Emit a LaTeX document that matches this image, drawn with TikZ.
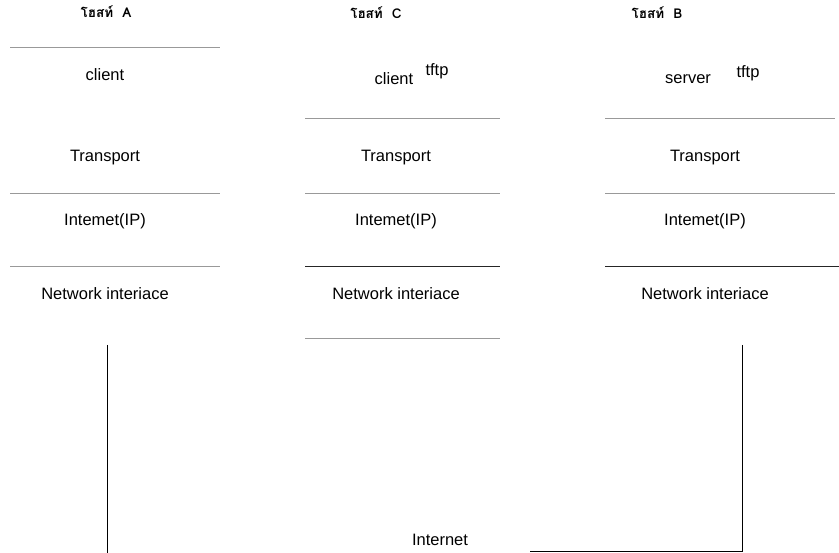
\documentclass[tikz,border=0pt]{standalone}
\usepackage{fontspec}
\setmainfont{Liberation Sans}
\newfontfamily\thaifont[Script=Thai]{Loma}
\begin{document}
\begin{tikzpicture}[x=1pt,y=-1pt,
    layer/.style={font=\fontsize{16.5}{19}\selectfont, inner sep=1pt},
    host/.style={font=\thaifont\bfseries\fontsize{13.5}{15}\selectfont, inner sep=1pt},
    sep/.style={draw=black!40, line width=0.7pt},
    solidsep/.style={draw=black!85, line width=0.9pt},
    wire/.style={draw=black, line width=0.9pt}]
    \useasboundingbox (0,0) rectangle (839,553);

    % hosts
    \node[host] (ha) at (106,12) {โฮสท์\ \ A};
    \node[host] (hc) at (376,13) {โฮสท์\ \ C};
    \node[host] (hb) at (657,13) {โฮสท์\ \ B};

    % application layer
    \node[layer] (apa) at (105,75) {client};
    \node[layer] (apc) at (394,79) {client};
    \node[layer] (tfc) at (437,71) {tftp};
    \node[layer] (apb) at (688,79) {server};
    \node[layer] (tfb) at (748,73) {tftp};

    % lower layers
    \foreach \col/\x in {a/105,c/396,b/705}
    {
      \node[layer] (tr\col) at (\x,158) {Transport};
      \node[layer] (ip\col) at (\x,221) {Intemet(IP)};
      \node[layer] (ni\col) at (\x,294) {Network interiace};
    };

    % layer borders
    \foreach \xa/\xb/\y in {10/220/47, 10/220/193, 10/220/266,
                            305/500/118, 305/500/193, 305/500/338,
                            605/835/118, 605/835/193}
      \draw[sep] (\xa,\y) -- (\xb,\y);
    \draw[solidsep] (305,266) -- (500,266);
    \draw[solidsep] (605,266) -- (839,266);

    % wires to the internet
    \coordinate (ta) at (107,345);
    \coordinate (ea) at (107,553);
    \coordinate (tb) at (742,345);
    \coordinate (eb) at (742,551);
    \coordinate (ie) at (530,551);
    \node[layer] (net) at (440,540) {Internet};

    \draw[wire] (ta) -- (ea);
    \draw[wire] (tb) -- (eb) -- (ie);
\end{tikzpicture}
\end{document}
